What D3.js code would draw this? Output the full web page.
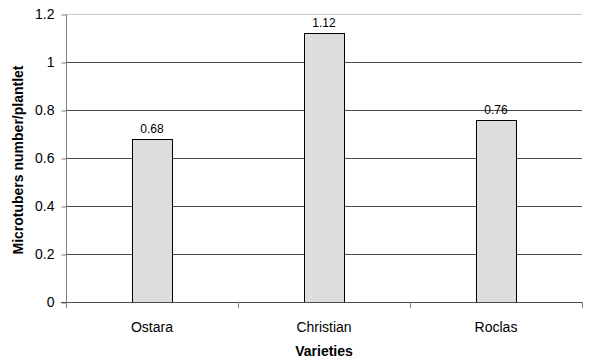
<!DOCTYPE html>
<html>
<head>
<meta charset="utf-8">
<script src="https://cdn.jsdelivr.net/npm/d3@7/dist/d3.min.js"></script>
<style>
  html, body { margin: 0; padding: 0; background: #fff; }
  svg { display: block; font-family: "Liberation Sans", Arial, sans-serif; }
</style>
</head>
<body>
<svg id="chart" width="606" height="361"></svg>
<script>
// Microtuber yield per plantlet by potato variety
const varieties = ["Ostara", "Christian", "Roclas"];
const microtubers = [0.68, 1.12, 0.76];
const valueLabels = ["0.68", "1.12", "0.76"];
const yTicks = [0, 0.2, 0.4, 0.6, 0.8, 1, 1.2];
const yTickLabels = ["0", "0.2", "0.4", "0.6", "0.8", "1", "1.2"];

const svg = d3.select("#chart");
const margin = { left: 66, right: 24, top: 14, bottom: 59 };
const W = 606, H = 361;

const x = d3.scaleBand()
  .domain(varieties)
  .range([margin.left, W - margin.right])
  .padding(0);

const y = d3.scaleLinear()
  .domain([0, 1.2])
  .range([H - margin.bottom, margin.top]);

const barW = x.bandwidth() * 0.233;

// horizontal gridlines
svg.append("g")
  .selectAll("line")
  .data(yTicks.filter(t => t > 0))
  .join("line")
  .attr("x1", margin.left)
  .attr("x2", W - margin.right)
  .attr("y1", d => Math.round(y(d)) + 0.5)
  .attr("y2", d => Math.round(y(d)) + 0.5)
  .attr("stroke", d => d === 1.2 ? "#c8c8c8" : "#4a4a4a")
  .attr("stroke-width", 1);

// bars
svg.append("g")
  .selectAll("rect")
  .data(varieties)
  .join("rect")
  .attr("x", d => Math.round(x(d) + (x.bandwidth() - barW) / 2) + 0.5)
  .attr("y", (d, i) => Math.round(y(microtubers[i])) + 0.5)
  .attr("width", Math.round(barW))
  .attr("height", (d, i) => Math.round(y(0)) - Math.round(y(microtubers[i])))
  .attr("fill", "#dddddd")
  .attr("stroke", "#000")
  .attr("stroke-width", 1);

// value labels above bars
svg.append("g")
  .selectAll("text")
  .data(varieties)
  .join("text")
  .attr("x", d => x(d) + x.bandwidth() / 2)
  .attr("y", (d, i) => y(microtubers[i]) - 6)
  .attr("text-anchor", "middle")
  .attr("font-size", "12px")
  .attr("fill", "#000")
  .text((d, i) => valueLabels[i]);

// y axis
const yAxis = d3.axisLeft(y)
  .tickValues(yTicks)
  .tickFormat((d, i) => yTickLabels[i])
  .tickSize(5)
  .tickPadding(7);
const gy = svg.append("g")
  .attr("transform", `translate(${margin.left + 0.5},0.5)`)
  .call(yAxis);
gy.select(".domain").attr("stroke", "#808080").attr("d", `M0,${y(1.2)}V${y(0)}`);
gy.selectAll(".tick line").attr("stroke", "#808080");
gy.selectAll(".tick text")
  .attr("font-size", "14px")
  .attr("font-family", "Liberation Sans, Arial, sans-serif")
  .attr("fill", "#000");

// x axis baseline with ticks between categories
const xEdges = varieties.map(v => x(v)).concat([x(varieties[varieties.length - 1]) + x.bandwidth()]);
const gx = svg.append("g");
gx.append("line")
  .attr("x1", margin.left - 5)
  .attr("x2", W - margin.right)
  .attr("y1", Math.round(y(0)) + 0.5)
  .attr("y2", Math.round(y(0)) + 0.5)
  .attr("stroke", "#4a4a4a");
gx.selectAll("line.tick")
  .data(xEdges)
  .join("line")
  .attr("class", "tick")
  .attr("x1", d => Math.round(d) + 0.5)
  .attr("x2", d => Math.round(d) + 0.5)
  .attr("y1", Math.round(y(0)))
  .attr("y2", Math.round(y(0)) + 6)
  .attr("stroke", "#808080");

// category labels
svg.append("g")
  .selectAll("text")
  .data(varieties)
  .join("text")
  .attr("x", d => x(d) + x.bandwidth() / 2)
  .attr("y", y(0) + 29.5)
  .attr("text-anchor", "middle")
  .attr("font-size", "14px")
  .attr("fill", "#000")
  .text(d => d);

// axis titles
svg.append("text")
  .attr("x", (margin.left + W - margin.right) / 2)
  .attr("y", 356)
  .attr("text-anchor", "middle")
  .attr("font-size", "14px")
  .attr("font-weight", "bold")
  .text("Varieties");

svg.append("text")
  .attr("transform", `translate(23,160) rotate(-90)`)
  .attr("text-anchor", "middle")
  .attr("font-size", "14px")
  .attr("font-weight", "bold")
  .text("Microtubers number/plantlet");
</script>
</body>
</html>
